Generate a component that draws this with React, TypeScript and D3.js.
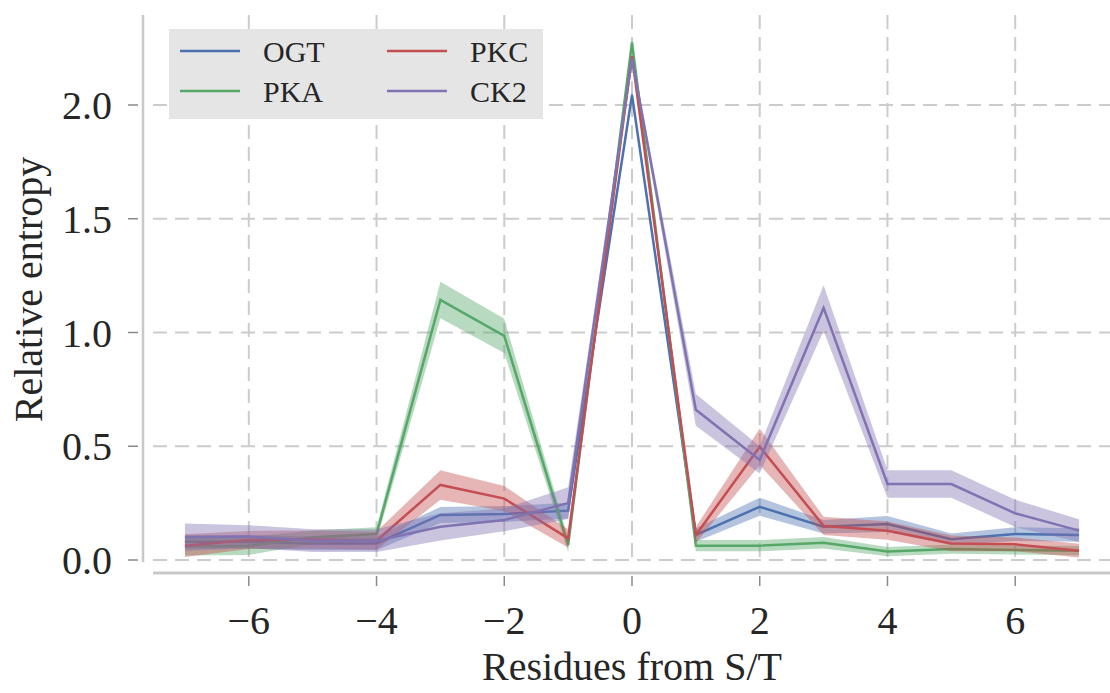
import React from 'react';
import * as d3 from 'd3';

const residues = [-7, -6, -5, -4, -3, -2, -1, 0, 1, 2, 3, 4, 5, 6, 7];

const ogt = [0.08, 0.08, 0.073, 0.073, 0.198, 0.202, 0.217, 2.044, 0.11, 0.234, 0.146, 0.158, 0.091, 0.114, 0.11];
const ogtErr = [0.03, 0.03, 0.03, 0.03, 0.035, 0.035, 0.035, 0.02, 0.03, 0.04, 0.03, 0.035, 0.025, 0.03, 0.03];

const pka = [0.06, 0.062, 0.1, 0.114, 1.143, 0.985, 0.066, 2.275, 0.063, 0.063, 0.076, 0.037, 0.048, 0.044, 0.041];
const pkaErr = [0.04, 0.04, 0.03, 0.03, 0.08, 0.075, 0.03, 0.02, 0.025, 0.025, 0.025, 0.02, 0.02, 0.02, 0.02];

const pkc = [0.063, 0.088, 0.09, 0.085, 0.33, 0.27, 0.095, 2.215, 0.11, 0.498, 0.15, 0.129, 0.073, 0.069, 0.041];
const pkcErr = [0.05, 0.04, 0.04, 0.04, 0.065, 0.055, 0.04, 0.02, 0.035, 0.08, 0.04, 0.04, 0.035, 0.03, 0.03];

const ck2 = [0.1, 0.103, 0.085, 0.085, 0.146, 0.176, 0.25, 2.205, 0.66, 0.44, 1.108, 0.334, 0.334, 0.205, 0.129];
const ck2Err = [0.06, 0.05, 0.05, 0.05, 0.06, 0.05, 0.07, 0.02, 0.07, 0.06, 0.1, 0.06, 0.06, 0.06, 0.05];

const seriesNames = ['OGT', 'PKA', 'PKC', 'CK2'];
const seriesColors = ['#4C72B0', '#55A868', '#C44E52', '#8172B2'];

const xTicks = [-6, -4, -2, 0, 2, 4, 6];
const yTicks = [0, 0.5, 1.0, 1.5, 2.0];

const W = 1110;
const H = 693;
const FONT = '"Liberation Serif", "DejaVu Serif", serif';

export default function App() {
  const left = 153, right = 1111, top = 15, bottom = 564;
  const x = d3.scaleLinear().domain([-7.5, 7.5]).range([left, right]);
  const y = d3.scaleLinear().domain([0, 2]).range([560, 105]);

  const all = [
    { name: seriesNames[0], color: seriesColors[0], v: ogt, e: ogtErr },
    { name: seriesNames[1], color: seriesColors[1], v: pka, e: pkaErr },
    { name: seriesNames[2], color: seriesColors[2], v: pkc, e: pkcErr },
    { name: seriesNames[3], color: seriesColors[3], v: ck2, e: ck2Err },
  ];

  const line = d3.line<number>().x((_, i) => x(residues[i])).y(d => y(d));

  const grid = '#cccccc';
  const spine = '#c8c8c8';

  // legend layout (column-major, 2 columns)
  const legX = 169, legY = 29, legW = 374, legH = 90;

  return (
    <div style={{ position: 'absolute', left: 0, top: 0 }}>
      <svg width={W} height={H} style={{ display: 'block', fontFamily: FONT }}>
        <rect width={W} height={H} fill="#fff" />
        {/* grid */}
        {xTicks.map(t => (
          <line key={'gx' + t} x1={x(t)} x2={x(t)} y1={top} y2={bottom}
            stroke={grid} strokeWidth={2} strokeDasharray="14,8" />
        ))}
        {yTicks.map(t => (
          <line key={'gy' + t} x1={left} x2={right} y1={y(t)} y2={y(t)}
            stroke={grid} strokeWidth={2} strokeDasharray="14,8" />
        ))}

        {/* bands + lines */}
        {all.map(s => {
          const area = d3.area<number>()
            .x((_, i) => x(residues[i]))
            .y0((d, i) => y(d - s.e[i]))
            .y1((d, i) => y(d + s.e[i]));
          return (
            <g key={s.name}>
              <path d={area(s.v) || ''} fill={s.color} fillOpacity={0.42} stroke="none" />
              <path d={line(s.v) || ''} fill="none" stroke={s.color} strokeWidth={2.5} strokeLinejoin="miter" />
            </g>
          );
        })}

        {/* spines (offset) */}
        <line x1={143} x2={143} y1={top} y2={562} stroke={spine} strokeWidth={2.5} />
        <line x1={left} x2={right} y1={573} y2={573} stroke={spine} strokeWidth={3} />

        {/* y ticks */}
        {yTicks.map(t => (
          <g key={'yt' + t}>
            <line x1={128} x2={138} y1={y(t)} y2={y(t)} stroke="#8a8a8a" strokeWidth={1.5} />
            <text x={112} y={y(t)} dy="0.35em" textAnchor="end" fontSize={40} fill="#262626">
              {d3.format('.1f')(t)}
            </text>
          </g>
        ))}
        {/* x ticks */}
        {xTicks.map(t => (
          <g key={'xt' + t}>
            <line x1={x(t)} x2={x(t)} y1={576} y2={586} stroke="#8a8a8a" strokeWidth={1.5} />
            <text x={x(t)} y={634} textAnchor="middle" fontSize={40} fill="#262626">
              {t < 0 ? '\u2212' + Math.abs(t) : String(t)}
            </text>
          </g>
        ))}

        {/* axis labels */}
        <text x={(left + right) / 2} y={680} textAnchor="middle" fontSize={40} fill="#262626">
          Residues from S/T
        </text>
        <text transform={`translate(42, ${(top + bottom) / 2}) rotate(-90)`} textAnchor="middle"
          fontSize={40} fill="#262626">
          Relative entropy
        </text>

        {/* legend */}
        <rect x={legX} y={legY} width={legW} height={legH} fill="#e5e5e5" />
        {all.map((s, i) => {
          const col = Math.floor(i / 2), row = i % 2;
          const lx = legX + 11 + col * 207;
          const ly = legY + 22 + row * 40;
          return (
            <g key={'leg' + s.name}>
              <line x1={lx} x2={lx + 60} y1={ly} y2={ly} stroke={s.color} strokeWidth={2.5} />
              <text x={lx + 83} y={ly} dy="0.35em" fontSize={30} fill="#262626">{s.name}</text>
            </g>
          );
        })}
      </svg>
    </div>
  );
}
